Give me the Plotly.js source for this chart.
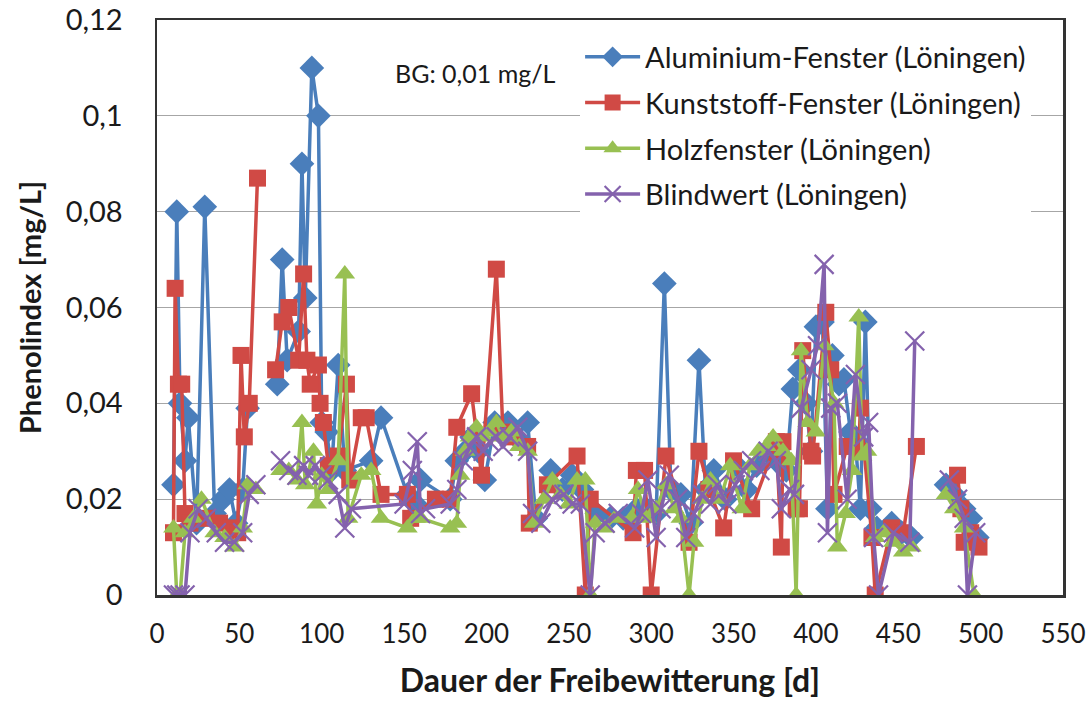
<!DOCTYPE html>
<html>
<head>
<meta charset="utf-8">
<script src="https://cdn.plot.ly/plotly-3.0.1.min.js"></script>
<style>html,body{margin:0;padding:0;background:#fff;}#chart{width:1087px;height:704px;}</style>
</head>
<body>
<div id="chart"></div>
<script>
// Aluminium-Fenster (Löningen)
const alDays = [10,12,14,17,19,24,29,35,40,44,48,52,55,null,73,76,79,86,88,90,94,98,100,103,106,110,114,130,136,152,157,160,178,182,187,191,195,199,205,213,218,225,230,239,246,252,258,267,275,283,291,297,303,308,312,318,324,329,333,338,345,352,358,364,370,376,382,386,390,394,397,400,404,407,410,414,417,421,424,427,430,433,437,446,452,458,null,479,484,490,494,498];
const alVals = [0.023,0.080,0.040,0.028,0.037,0.015,0.081,0.017,0.020,0.022,0.015,0.022,0.039,null,0.044,0.070,0.049,0.055,0.090,0.062,0.110,0.100,0.036,0.034,0.026,0.048,0.026,0.028,0.037,0.021,0.019,0.024,0.020,0.028,0.030,0.033,0.030,0.024,0.036,0.036,0.033,0.036,0.016,0.026,0.022,0.025,0.022,0.017,0.016,0.016,0.018,0.018,0.017,0.065,0.022,0.021,0.015,0.049,0.022,0.026,0.020,0.027,0.022,0.027,0.030,0.028,0.026,0.043,0.047,0.040,0.030,0.056,0.057,0.018,0.050,0.044,0.045,0.034,0.032,0.018,0.057,0.018,0.014,0.015,0.013,0.012,null,0.023,0.021,0.018,0.016,0.012];

// Kunststoff-Fenster (Löningen)
const kuDays = [10,11,13,15,17,20,30,38,45,49,51,53,56,61,null,72,76,80,86,89,91,93,98,99,101,104,110,115,117,124,127,136,152,154,169,178,182,191,197,206,210,216,225,226,237,255,260,263,289,291,296,300,309,323,329,335,344,350,361,376,379,380,388,390,392,397,398,406,409,411,419,426,427,434,436,446,453,461,null,486,488,490,494,499];
const kuVals = [0.013,0.064,0.044,0.044,0.017,0.015,0.016,0.015,0.014,0.013,0.050,0.033,0.040,0.087,null,0.047,0.057,0.060,0.049,0.067,0.049,0.044,0.048,0.040,0.036,0.027,0.029,0.044,0.024,0.037,0.037,0.021,0.021,0.016,0.020,0.020,0.035,0.042,0.025,0.068,0.034,0.033,0.031,0.015,0.023,0.029,0,0.020,0.013,0.026,0.026,0,0.029,0.011,0.030,0.022,0.014,0.028,0.018,0.032,0.010,0.032,0.018,0.018,0.051,0.030,0.029,0.059,0.047,0.021,0.031,0.030,0.039,0.012,0,0.014,0.013,0.031,null,0.025,0.018,0.011,0.013,0.010];

// Holzfenster (Löningen)
const hoDays = [10,12,14,17,22,27,35,41,47,52,55,60,null,75,80,85,88,90,95,97,100,104,110,114,116,124,130,136,152,157,160,178,182,184,187,190,194,198,202,206,210,215,220,225,229,235,240,245,250,255,260,263,266,272,278,288,292,297,303,309,314,318,323,326,331,336,342,348,355,360,365,370,374,380,385,388,391,395,400,405,411,413,418,422,426,428,431,436,441,447,453,458,null,479,484,490,496];
const hoVals = [0.014,0,0,0.013,0.016,0.020,0.013,0.012,0.010,0.014,0.023,0.022,null,0.026,0.026,0.024,0.036,0.023,0.030,0.019,0.025,0.022,0.028,0.067,0.016,0.025,0.026,0.016,0.014,0.016,0.016,0.014,0.015,0.025,0.030,0.033,0.035,0.033,0.034,0.036,0.033,0.034,0.031,0.030,0.015,0.020,0.024,0.021,0.019,0.024,0.024,0,0.015,0.014,0.016,0.016,0.022,0.016,0.018,0.023,0.018,0.016,0,0.011,0.020,0.024,0.020,0.027,0.018,0.027,0.030,0.031,0.033,0.030,0.028,0,0.051,0.036,0.034,0.052,0.040,0.010,0.017,0.026,0.058,0.029,0.030,0.012,0.013,0.011,0.009,0.010,null,0.021,0.018,0.014,0];

// Blindwert (Löningen)
const blDays = [10,12,14,17,20,25,30,36,41,47,52,56,60,null,75,80,85,89,92,96,100,104,110,114,118,150,155,158,160,163,178,182,186,190,194,198,202,206,210,214,219,225,228,233,240,247,252,257,263,266,272,280,290,294,298,303,306,311,316,321,326,331,336,340,346,351,356,361,366,371,376,379,384,387,391,397,401,405,407,409,413,419,424,429,432,435,438,447,457,460,null,481,486,490,492,497];
const blVals = [0,0,0,0,0.013,0.018,0.016,0.013,0.011,0.011,0.013,0.021,0.023,null,0.028,0.026,0.025,0.027,0.025,0.027,0.025,0.024,0.021,0.014,0.018,0.019,0.026,0.032,0.017,0.018,0.019,0.022,0.028,0.031,0.033,0.030,0.032,0.033,0.031,0.033,0.035,0.030,0.017,0.015,0.020,0.021,0.019,0.019,0,0.013,0.015,0.017,0.014,0.017,0.024,0.012,0.018,0.025,0.020,0.012,0.017,0.021,0.019,0.023,0.019,0.023,0.026,0.028,0.026,0.030,0.028,0.018,0.022,0.021,0.039,0.047,0.052,0.069,0.013,0.039,0.040,0.020,0.046,0.033,0.036,0.012,0,0.013,0.011,0.053,null,0.024,0.020,0.016,0,0.013];

const xTicks = [0,50,100,150,200,250,300,350,400,450,500,550];
const yTicks = [0,0.02,0.04,0.06,0.08,0.1,0.12];

const FONT = 'Lato, "Open Sans", "Noto Sans", sans-serif';

function mk(name, xs, ys, color, symbol, size, group) {
  return {
    type: 'scatter', mode: 'lines+markers', name: name,
    x: xs, y: ys, legendgroup: group,
    line: {color: color, width: 3.5},
    marker: {color: color, symbol: symbol, size: size,
      line: symbol === 'x-thin' ? {color: color, width: 2.2} : {width: 0}},
    connectgaps: false
  };
}

const data = [
  mk('Aluminium-Fenster (Löningen)', alDays, alVals, '#4a7ebb', 'diamond', 19, 'a'),
  mk('Kunststoff-Fenster (Löningen)', kuDays, kuVals, '#d04a45', 'square', 17, 'b'),
  mk('Holzfenster (Löningen)', hoDays, hoVals, '#98c052', 'triangle-up', 18, 'c'),
  mk('Blindwert (Löningen)', blDays, blVals, '#8462ad', 'x-thin', 19, 'd')
];

const layout = {
  width: 1087, height: 704,
  margin: {l: 157, r: 24, t: 20, b: 109},
  paper_bgcolor: '#ffffff', plot_bgcolor: '#ffffff',
  separators: ',.',
  font: {family: FONT, color: '#1a1a1a', size: 28},
  showlegend: true,
  legend: {
    x: 0.467, y: 0.98, xanchor: 'left', yanchor: 'top',
    bgcolor: '#ffffff', borderwidth: 0,
    font: {family: FONT, size: 29, color: '#1a1a1a'},
    tracegroupgap: 5, itemwidth: 55
  },
  xaxis: {
    range: [0, 550.001], tickvals: xTicks, ticktext: xTicks.map(String),
    showgrid: false, zeroline: false,
    showline: true, mirror: true, linecolor: '#333333', linewidth: 2.5,
    ticks: '', ticklabelstandoff: 14, ticklabeloverflow: 'allow',
    tickfont: {family: FONT, size: 26, color: '#1a1a1a'},
    title: {text: '<b>Dauer der Freibewitterung [d]</b>', font: {family: FONT, size: 32, color: '#1a1a1a'}, standoff: 22}
  },
  yaxis: {
    range: [0, 0.12], tickvals: yTicks,
    showgrid: true, gridcolor: '#a6a6a6', gridwidth: 1.2,
    zeroline: false,
    showline: true, mirror: true, linecolor: '#333333', linewidth: 2.5,
    ticks: '', ticklabelstandoff: 26,
    tickfont: {family: FONT, size: 29, color: '#1a1a1a'},
    title: {text: '<b>Phenolindex [mg/L]</b>', font: {family: FONT, size: 29, color: '#1a1a1a'}, standoff: 16}
  },
  annotations: [{
    xref: 'paper', yref: 'paper', x: 0.26, y: 0.908, xanchor: 'left', yanchor: 'middle',
    text: 'BG: 0,01 mg/L', showarrow: false,
    font: {family: FONT, size: 25, color: '#1a1a1a'}
  }]
};

Plotly.newPlot('chart', data, layout, {displayModeBar: false, staticPlot: true});
</script>
</body>
</html>
